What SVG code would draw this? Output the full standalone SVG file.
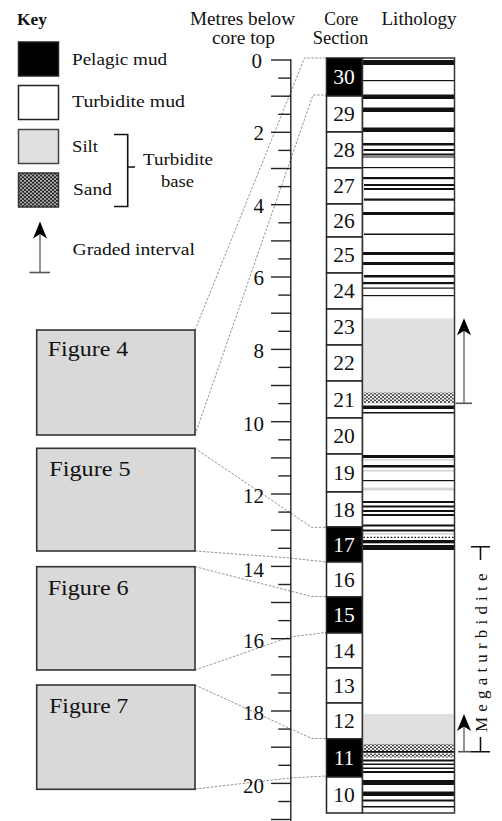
<svg xmlns="http://www.w3.org/2000/svg" width="502" height="821" viewBox="0 0 502 821">
  <style>
    text { font-family: "Liberation Serif", "DejaVu Serif", serif; fill: #111; }
    .hdr { font-size: 18px; text-anchor: middle; }
    .key { font-size: 17.5px; }
    .num { font-size: 21px; text-anchor: end; }
    .sec { font-size: 21.5px; text-anchor: middle; }
    .secw { fill: #fff; }
    .fig { font-size: 22px; }
    .box { fill: #fff; stroke: #222; stroke-width: 1.5; }
    .boxb { fill: #000; stroke: #222; stroke-width: 1.5; }
    .figbox { fill: #d9d9d9; stroke: #333; stroke-width: 1.6; }
    .blk { fill: #111; }
    .lgt { fill: #d6d6d6; }
    .silt { fill: #e0e0e0; }
    .tick { stroke: #222; stroke-width: 1.4; }
    .conn { fill: none; stroke: #888; stroke-width: 0.9; stroke-dasharray: 2.5 1.5; }
    .shaft { stroke: #888; stroke-width: 1.8; }
    .bar { stroke: #555; stroke-width: 1.6; }
    .brk { stroke: #111; stroke-width: 1.6; fill: none; }
  </style>
  <defs>
    <pattern id="sand" width="4" height="3.4" patternUnits="userSpaceOnUse">
      <rect width="4" height="3.4" fill="#fff"/>
      <circle cx="1" cy="0.9" r="0.95" fill="#111"/>
      <circle cx="3" cy="2.6" r="0.95" fill="#111"/>
    </pattern>
    <pattern id="sandKey" width="4" height="3.6" patternUnits="userSpaceOnUse">
      <rect width="4" height="3.6" fill="#222"/>
      <circle cx="1" cy="0.9" r="0.85" fill="#fff"/>
      <circle cx="3" cy="2.7" r="0.85" fill="#fff"/>
    </pattern>
    <path id="head" d="M0 0 L7 17 L0 12.5 L-7 17 Z" fill="#000"/>
  </defs>

  <!-- legend -->
  <g id="key">
    <text x="17" y="25" font-weight="bold" font-size="17" textLength="30" lengthAdjust="spacingAndGlyphs">Key</text>
    <rect x="18.5" y="42" width="40" height="34" class="boxb"/>
    <rect x="18.5" y="85.5" width="40" height="34" class="box"/>
    <rect x="18.5" y="129.5" width="40" height="34" fill="#e0e0e0" stroke="#444" stroke-width="1.5"/>
    <rect x="18.5" y="173" width="40" height="34" fill="url(#sandKey)" stroke="#333" stroke-width="1.5"/>
    <text x="72" y="65" class="key" textLength="95" lengthAdjust="spacingAndGlyphs">Pelagic mud</text>
    <text x="72" y="107" class="key" textLength="113" lengthAdjust="spacingAndGlyphs">Turbidite mud</text>
    <text x="72" y="152" class="key" textLength="26" lengthAdjust="spacingAndGlyphs">Silt</text>
    <text x="73" y="195" class="key" textLength="39" lengthAdjust="spacingAndGlyphs">Sand</text>
    <path d="M114 134.5 H127.7 V206.5 H114 M127.7 167 H135" class="brk"/>
    <text x="178" y="165" class="key" text-anchor="middle" textLength="70" lengthAdjust="spacingAndGlyphs">Turbidite</text>
    <text x="177.5" y="187" class="key" text-anchor="middle" textLength="33" lengthAdjust="spacingAndGlyphs">base</text>
    <line x1="40" y1="272.5" x2="40" y2="232" class="shaft"/>
    <line x1="29.5" y1="272.5" x2="50" y2="272.5" class="bar"/>
    <use href="#head" x="40" y="221.5"/>
    <text x="72.5" y="255" class="key" textLength="122.5" lengthAdjust="spacingAndGlyphs">Graded interval</text>
  </g>

  <!-- column headings -->
  <g id="headings">
    <text x="242.5" y="25" class="hdr" textLength="105" lengthAdjust="spacingAndGlyphs">Metres below</text>
    <text x="243.5" y="44" class="hdr" textLength="63" lengthAdjust="spacingAndGlyphs">core top</text>
    <text x="341.3" y="25" class="hdr" textLength="34" lengthAdjust="spacingAndGlyphs">Core</text>
    <text x="340.5" y="44" class="hdr" textLength="55.7" lengthAdjust="spacingAndGlyphs">Section</text>
    <text x="419" y="25" class="hdr" textLength="75" lengthAdjust="spacingAndGlyphs">Lithology</text>
  </g>

  <!-- dashed leaders from figure panels to the core -->
  <g id="connectors">
    <polyline class="conn" points="195,330 304.5,58 326,58"/>
    <polyline class="conn" points="195,435 313,95 326,95"/>
    <polyline class="conn" points="195,448.3 311.7,527.3 326,527.3"/>
    <polyline class="conn" points="195,551 290,558 326,562"/>
    <polyline class="conn" points="195,566.7 311.7,596.5 326,596.5"/>
    <polyline class="conn" points="195,670 290,637 326,632.5"/>
    <polyline class="conn" points="195,685 311.7,738.5 326,738.5"/>
    <polyline class="conn" points="195,789 290,778 326,776"/>
  </g>

  <!-- depth scale, 36.17 px per metre -->
  <g id="scale">
    <line x1="290.8" y1="59.3" x2="290.8" y2="821" class="tick"/>
    <g class="tick">
      <line x1="271" y1="60" x2="291" y2="60"/>
      <line x1="278.3" y1="78.1" x2="291" y2="78.1"/>
      <line x1="271" y1="96.2" x2="291" y2="96.2"/>
      <line x1="278.3" y1="114.3" x2="291" y2="114.3"/>
      <line x1="271" y1="132.3" x2="291" y2="132.3"/>
      <line x1="278.3" y1="150.4" x2="291" y2="150.4"/>
      <line x1="271" y1="168.5" x2="291" y2="168.5"/>
      <line x1="278.3" y1="186.6" x2="291" y2="186.6"/>
      <line x1="271" y1="204.7" x2="291" y2="204.7"/>
      <line x1="278.3" y1="222.8" x2="291" y2="222.8"/>
      <line x1="271" y1="240.9" x2="291" y2="240.9"/>
      <line x1="278.3" y1="258.9" x2="291" y2="258.9"/>
      <line x1="271" y1="277" x2="291" y2="277"/>
      <line x1="278.3" y1="295.1" x2="291" y2="295.1"/>
      <line x1="271" y1="313.2" x2="291" y2="313.2"/>
      <line x1="278.3" y1="331.3" x2="291" y2="331.3"/>
      <line x1="271" y1="349.4" x2="291" y2="349.4"/>
      <line x1="278.3" y1="367.4" x2="291" y2="367.4"/>
      <line x1="271" y1="385.5" x2="291" y2="385.5"/>
      <line x1="278.3" y1="403.6" x2="291" y2="403.6"/>
      <line x1="271" y1="421.7" x2="291" y2="421.7"/>
      <line x1="278.3" y1="439.8" x2="291" y2="439.8"/>
      <line x1="271" y1="457.9" x2="291" y2="457.9"/>
      <line x1="278.3" y1="475.9" x2="291" y2="475.9"/>
      <line x1="271" y1="494" x2="291" y2="494"/>
      <line x1="278.3" y1="512.1" x2="291" y2="512.1"/>
      <line x1="271" y1="530.2" x2="291" y2="530.2"/>
      <line x1="278.3" y1="548.3" x2="291" y2="548.3"/>
      <line x1="271" y1="566.4" x2="291" y2="566.4"/>
      <line x1="278.3" y1="584.5" x2="291" y2="584.5"/>
      <line x1="271" y1="602.5" x2="291" y2="602.5"/>
      <line x1="278.3" y1="620.6" x2="291" y2="620.6"/>
      <line x1="271" y1="638.7" x2="291" y2="638.7"/>
      <line x1="278.3" y1="656.8" x2="291" y2="656.8"/>
      <line x1="271" y1="674.9" x2="291" y2="674.9"/>
      <line x1="278.3" y1="693" x2="291" y2="693"/>
      <line x1="271" y1="711" x2="291" y2="711"/>
      <line x1="278.3" y1="729.1" x2="291" y2="729.1"/>
      <line x1="271" y1="747.2" x2="291" y2="747.2"/>
      <line x1="278.3" y1="765.3" x2="291" y2="765.3"/>
      <line x1="271" y1="783.4" x2="291" y2="783.4"/>
      <line x1="278.3" y1="801.5" x2="291" y2="801.5"/>
      <line x1="271" y1="819.5" x2="291" y2="819.5"/>
    </g>
    <text x="262" y="68" class="num">0</text>
    <text x="264" y="140" class="num">2</text>
    <text x="264" y="212.5" class="num">4</text>
    <text x="264" y="285" class="num">6</text>
    <text x="264" y="358" class="num">8</text>
    <text x="264" y="430.5" class="num">10</text>
    <text x="264" y="503" class="num">12</text>
    <text x="264" y="577" class="num">14</text>
    <text x="264" y="648" class="num">16</text>
    <text x="264" y="719.5" class="num">18</text>
    <text x="264" y="792.5" class="num">20</text>
  </g>

  <!-- core sections 30 (top) to 10 (base) -->
  <g id="core-sections">
    <g id="sec30"><rect x="326.5" y="58" width="36" height="38" class="boxb"/><text x="344" y="84" class="sec secw">30</text></g>
    <g id="sec29"><rect x="326.5" y="96" width="36" height="36" class="box"/><text x="344" y="121" class="sec">29</text></g>
    <g id="sec28"><rect x="326.5" y="132" width="36" height="36" class="box"/><text x="344" y="157" class="sec">28</text></g>
    <g id="sec27"><rect x="326.5" y="168" width="36" height="36" class="box"/><text x="344" y="193" class="sec">27</text></g>
    <g id="sec26"><rect x="326.5" y="204" width="36" height="33" class="box"/><text x="344" y="228" class="sec">26</text></g>
    <g id="sec25"><rect x="326.5" y="237" width="36" height="36" class="box"/><text x="344" y="262" class="sec">25</text></g>
    <g id="sec24"><rect x="326.5" y="273" width="36" height="36" class="box"/><text x="344" y="298" class="sec">24</text></g>
    <g id="sec23"><rect x="326.5" y="309" width="36" height="36" class="box"/><text x="344" y="334" class="sec">23</text></g>
    <g id="sec22"><rect x="326.5" y="345" width="36" height="36" class="box"/><text x="344" y="370" class="sec">22</text></g>
    <g id="sec21"><rect x="326.5" y="381" width="36" height="37" class="box"/><text x="344" y="406.5" class="sec">21</text></g>
    <g id="sec20"><rect x="326.5" y="418" width="36" height="36" class="box"/><text x="344" y="443" class="sec">20</text></g>
    <g id="sec19"><rect x="326.5" y="454" width="36" height="38" class="box"/><text x="344" y="480" class="sec">19</text></g>
    <g id="sec18"><rect x="326.5" y="492" width="36" height="35" class="box"/><text x="344" y="516.5" class="sec">18</text></g>
    <g id="sec17"><rect x="326.5" y="527" width="36" height="35" class="boxb"/><text x="344" y="551.5" class="sec secw">17</text></g>
    <g id="sec16"><rect x="326.5" y="562" width="36" height="35" class="box"/><text x="344" y="586.5" class="sec">16</text></g>
    <g id="sec15"><rect x="326.5" y="597" width="36" height="36" class="boxb"/><text x="344" y="622" class="sec secw">15</text></g>
    <g id="sec14"><rect x="326.5" y="633" width="36" height="35" class="box"/><text x="344" y="657.5" class="sec">14</text></g>
    <g id="sec13"><rect x="326.5" y="668" width="36" height="35" class="box"/><text x="344" y="692.5" class="sec">13</text></g>
    <g id="sec12"><rect x="326.5" y="703" width="36" height="36" class="box"/><text x="344" y="728" class="sec">12</text></g>
    <g id="sec11"><rect x="326.5" y="739" width="36" height="38" class="boxb"/><text x="344" y="765" class="sec secw">11</text></g>
    <g id="sec10"><rect x="326.5" y="777" width="36" height="36" class="box"/><text x="344" y="802" class="sec">10</text></g>
  </g>

  <!-- lithology log -->
  <g id="lithology">
    <rect x="362.5" y="58" width="92" height="755" fill="#fff"/>
    <rect x="363.5" y="318.3" width="90" height="74" class="silt"/>
    <rect x="363.5" y="392.3" width="90" height="11" fill="url(#sand)"/>
    <rect x="363.5" y="714" width="90" height="30" class="silt"/>
    <rect x="363.5" y="744" width="90" height="7" fill="url(#sand)"/>
    <rect x="363.5" y="753.5" width="90" height="4" fill="url(#sand)"/>
    <line x1="363.5" y1="537.3" x2="453.5" y2="537.3" stroke="#111" stroke-width="1.2" stroke-dasharray="1.6 1.8"/>
    <g class="lgt">
      <rect x="363" y="459" width="91" height="1.6"/>
      <rect x="363" y="470" width="91" height="1.6"/>
      <rect x="363" y="487.5" width="91" height="3"/>
      <rect x="363" y="533" width="91" height="1.6"/>
    </g>
    <g class="blk">
      <rect x="362.5" y="60" width="92" height="5"/>
      <rect x="362.5" y="80" width="92" height="1.2"/>
      <rect x="362.5" y="94.5" width="92" height="4.5"/>
      <rect x="362.5" y="107.5" width="92" height="4.5"/>
      <rect x="362.5" y="127.5" width="92" height="4.5"/>
      <rect x="362.5" y="143" width="92" height="2.5"/>
      <rect x="363.5" y="149" width="91" height="2"/>
      <rect x="362.5" y="153.5" width="92" height="2"/>
      <rect x="362.5" y="156.5" width="92" height="1"/>
      <rect x="362.5" y="167" width="92" height="1.2"/>
      <rect x="362.5" y="177" width="92" height="2.2"/>
      <rect x="364" y="184" width="90.5" height="2"/>
      <rect x="364" y="188" width="90.5" height="2"/>
      <rect x="364" y="198.5" width="90.5" height="2.2"/>
      <rect x="362.5" y="212" width="92" height="3"/>
      <rect x="364" y="233.5" width="90.5" height="1.5"/>
      <rect x="362.5" y="252" width="92" height="3"/>
      <rect x="362.5" y="262" width="92" height="3"/>
      <rect x="364" y="275" width="90.5" height="2.5"/>
      <rect x="362.5" y="282" width="92" height="2.2"/>
      <rect x="362.5" y="287.5" width="92" height="1.2"/>
      <rect x="362.5" y="295" width="92" height="1.2"/>
      <rect x="362.5" y="405.5" width="92" height="3.5"/>
      <rect x="362.5" y="412" width="92" height="1.5"/>
      <rect x="362.5" y="455" width="92" height="3"/>
      <rect x="362.5" y="465" width="92" height="2.5"/>
      <rect x="362.5" y="480" width="92" height="1.2"/>
      <rect x="362.5" y="501" width="92" height="2"/>
      <rect x="362.5" y="505.5" width="92" height="2"/>
      <rect x="362.5" y="510" width="92" height="2"/>
      <rect x="362.5" y="514" width="92" height="2"/>
      <rect x="362.5" y="524.5" width="92" height="2"/>
      <rect x="362.5" y="529.5" width="92" height="2"/>
      <rect x="362.5" y="540" width="92" height="3.3"/>
      <rect x="362.5" y="545" width="92" height="5"/>
      <rect x="362.5" y="751" width="92" height="1.8"/>
      <rect x="362.5" y="759.5" width="92" height="2"/>
      <rect x="362.5" y="763.5" width="92" height="1.5"/>
      <rect x="362.5" y="767.5" width="92" height="1.5"/>
      <rect x="362.5" y="771" width="92" height="2"/>
      <rect x="362.5" y="780" width="92" height="5"/>
      <rect x="362.5" y="791.5" width="92" height="4.5"/>
      <rect x="362.5" y="799.5" width="92" height="2"/>
      <rect x="362.5" y="806" width="92" height="1.5"/>
    </g>
    <rect x="362.5" y="58" width="92" height="755" fill="none" stroke="#333" stroke-width="1.5"/>
  </g>

  <!-- graded intervals -->
  <g id="graded-upper">
    <line x1="464" y1="403.3" x2="464" y2="328" class="shaft"/>
    <line x1="455.5" y1="403.3" x2="472" y2="403.3" class="bar"/>
    <use href="#head" x="464" y="318.3"/>
  </g>
  <g id="graded-lower">
    <line x1="464" y1="751.7" x2="464" y2="724" class="shaft"/>
    <line x1="458" y1="751.7" x2="471" y2="751.7" class="bar"/>
    <use href="#head" x="464" y="714"/>
  </g>

  <!-- megaturbidite bracket -->
  <g id="megaturbidite">
    <path d="M471 546.7 H490 M480.5 546.7 V560 M480.5 737 V751.7 M471 751.7 H490" class="brk"/>
    <text transform="translate(486.5 650) rotate(-90)" font-size="17" fill="#000" text-anchor="middle" letter-spacing="5.5" textLength="164" lengthAdjust="spacing">Megaturbidite</text>
  </g>

  <!-- figure panels -->
  <g id="figure4"><rect x="36.7" y="330" width="158.3" height="105" class="figbox"/><text x="47.7" y="356" class="fig" textLength="80.6" lengthAdjust="spacingAndGlyphs">Figure 4</text></g>
  <g id="figure5"><rect x="36.7" y="448.3" width="158.3" height="102.7" class="figbox"/><text x="49.3" y="476" class="fig" textLength="81.4" lengthAdjust="spacingAndGlyphs">Figure 5</text></g>
  <g id="figure6"><rect x="36.7" y="566.7" width="158.3" height="103.3" class="figbox"/><text x="47.7" y="595.3" class="fig" textLength="81" lengthAdjust="spacingAndGlyphs">Figure 6</text></g>
  <g id="figure7"><rect x="36.7" y="685" width="158.3" height="104.3" class="figbox"/><text x="49.3" y="713.3" class="fig" textLength="79" lengthAdjust="spacingAndGlyphs">Figure 7</text></g>
</svg>
